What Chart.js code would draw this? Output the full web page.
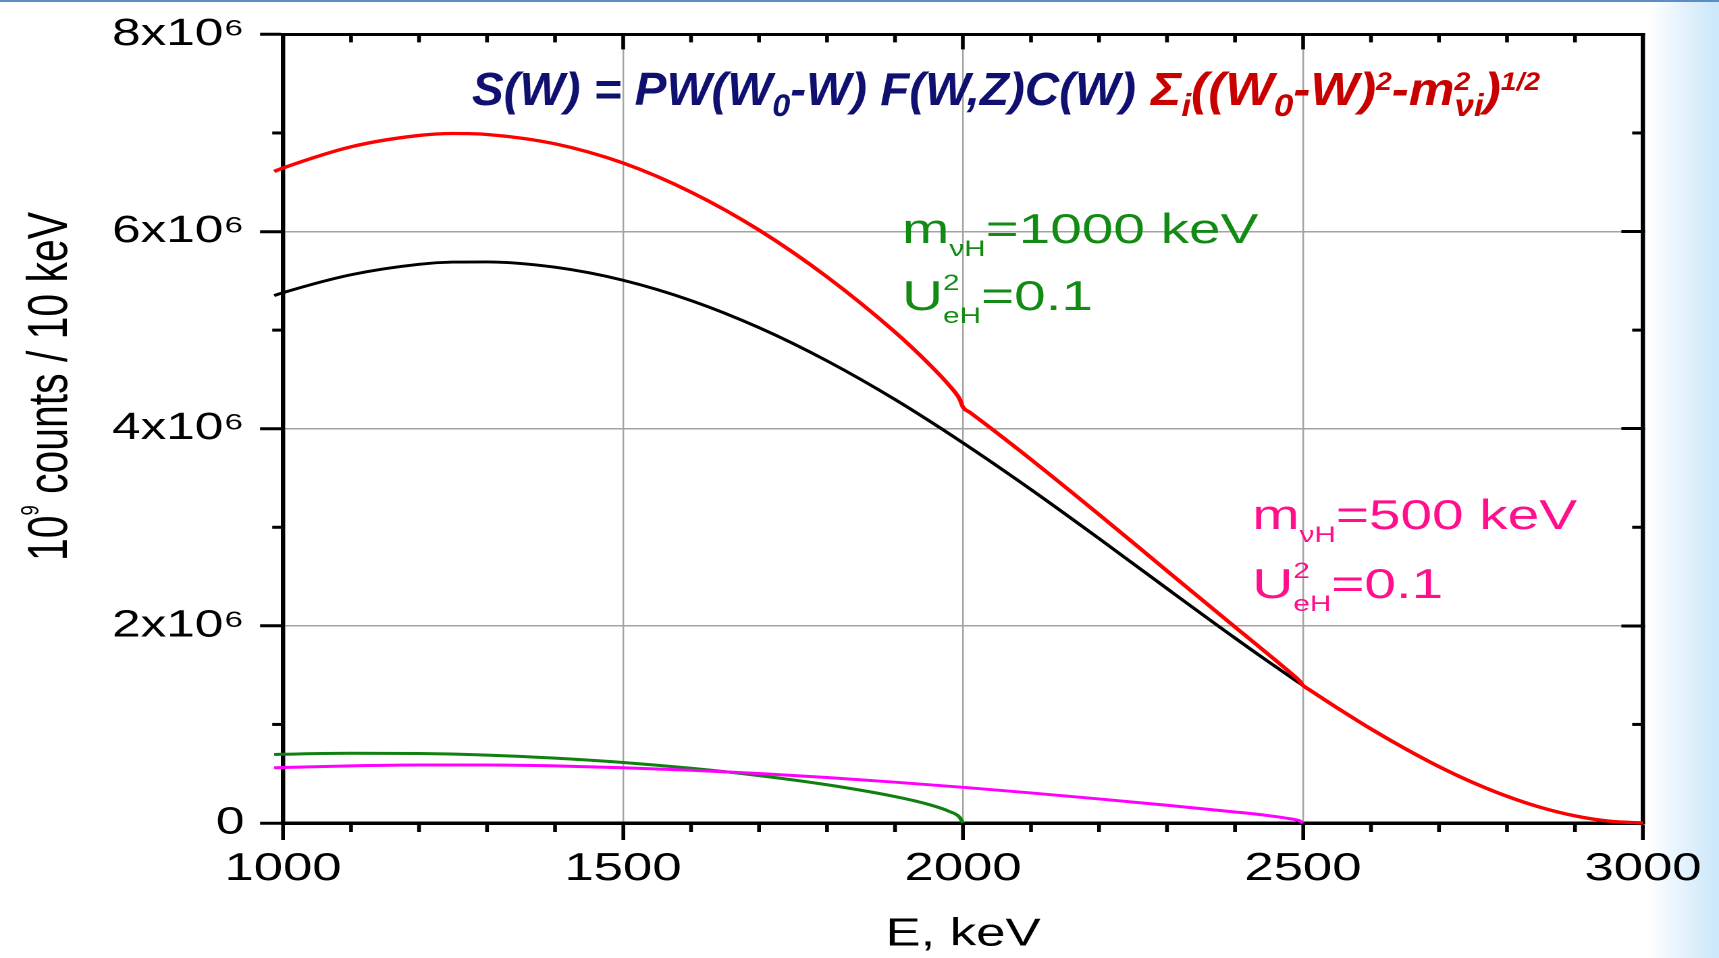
<!DOCTYPE html>
<html><head><meta charset="utf-8">
<script src="https://cdn.jsdelivr.net/npm/chart.js@4.4.0/dist/chart.umd.min.js"></script>
<style>
html,body{margin:0;padding:0;background:#fff;overflow:hidden;width:1719px;height:958px}
#wrap{position:absolute;left:0;top:0;width:1273px;height:958px;transform:scaleX(1.350353);transform-origin:0 0}
canvas{display:block}
</style></head><body>
<div id="wrap"><canvas id="c"></canvas></div>
<script>
// ---- data (values in units of 1e6 counts / 10 keV) ----
const UNIT = 1e6;
const totalE = [987,1000,1100,1200,1250,1300,1400,1500,1600,1700,1800,1900,1950,1980,1995,2000,2010,2025,2050,2100,2200,2300,2400,2450,2480,2495,2500,2510,2525,2550,2600,2650,2700,2750,2800,2850,2900,2950,3000];
const totalS = [6.610,6.645,6.860,6.975,6.995,6.985,6.890,6.695,6.400,6.015,5.540,4.980,4.656,4.437,4.301,4.218,4.166,4.089,3.957,3.688,3.130,2.558,1.988,1.706,1.533,1.441,1.395,1.349,1.281,1.169,0.954,0.755,0.572,0.410,0.271,0.157,0.072,0.0185,0];
const lightE = [987,1000,1100,1200,1250,1300,1400,1500,1600,1700,1800,1900,2000,2100,2200,2300,2400,2450,2480,2495,2500,2510,2525,2550,2600,2650,2700,2750,2800,2850,2900,2950,3000];
const lightS = [5.350,5.380,5.562,5.668,5.690,5.692,5.638,5.506,5.300,5.025,4.688,4.296,3.856,3.383,2.886,2.378,1.876,1.632,1.489,1.419,1.395,1.349,1.281,1.169,0.954,0.755,0.572,0.410,0.271,0.157,0.072,0.0185,0];
const heavy1000E = [987,1000,1100,1200,1300,1400,1500,1600,1700,1800,1900,1950,1980,1995,2000];
const heavy1000S = [0.695,0.697,0.707,0.705,0.689,0.658,0.614,0.555,0.481,0.388,0.268,0.187,0.117,0.058,0];
const heavy500E = [987,1000,1100,1200,1300,1400,1500,1600,1700,1800,1900,2000,2100,2200,2300,2400,2450,2480,2495,2500];
const heavy500S = [0.560,0.563,0.580,0.588,0.588,0.579,0.561,0.535,0.502,0.461,0.414,0.362,0.305,0.244,0.180,0.112,0.074,0.044,0.022,0];
const yTickLabels = ['0','2x10⁶','4x10⁶','6x10⁶','8x10⁶'];
const xTitle = 'E, keV';
const yTitleParts = ['10','9',' counts / 10 keV'];

const FONT = '"Liberation Sans", Arial, Helvetica, sans-serif';
const NAVY = '#101070', DRED = '#c80000', GTXT = '#138a13', MTXT = '#ff0f8c';

function pairs(E,S){ return E.map((e,i)=>({x:e, y:S[i]*UNIT})); }

function fnt(cfg, size){ return (cfg.style||'') + ' ' + size + 'px ' + FONT; }
function segW(ctx, s, cfg){
  if (!s.k){ ctx.font = fnt(cfg, cfg.size); return ctx.measureText(s.t).width; }
  if (s.k==='sub'){ ctx.font = fnt(cfg, cfg.size*cfg.subR); return ctx.measureText(s.t).width; }
  if (s.k==='sup'){ ctx.font = fnt(cfg, cfg.size*cfg.supR); return ctx.measureText(s.t).width; }
  ctx.font = fnt(cfg, cfg.size*cfg.subR); const a = ctx.measureText(s.t).width;
  ctx.font = fnt(cfg, cfg.size*cfg.supR); const b = ctx.measureText(s.t2).width;
  return Math.max(a,b);
}
function richW(ctx, segs, cfg){ let w=0; for(const s of segs) w+=segW(ctx,s,cfg); return w; }
function drawRich(ctx, x, y, segs, cfg, sx){
  ctx.save(); ctx.translate(x,y); ctx.scale(sx||1,1);
  ctx.textAlign='left'; ctx.textBaseline='alphabetic';
  let cx=0;
  for(const s of segs){
    ctx.fillStyle = s.c || cfg.color;
    const w = segW(ctx,s,cfg);
    if (!s.k){ ctx.font=fnt(cfg,cfg.size); ctx.fillText(s.t,cx,0); }
    else if (s.k==='sub'){ ctx.font=fnt(cfg,cfg.size*cfg.subR); ctx.fillText(s.t,cx,cfg.subDy); }
    else if (s.k==='sup'){ ctx.font=fnt(cfg,cfg.size*cfg.supR); ctx.fillText(s.t,cx,cfg.supDy); }
    else { ctx.font=fnt(cfg,cfg.size*cfg.subR); ctx.fillText(s.t,cx,cfg.subDy);
           ctx.font=fnt(cfg,cfg.size*cfg.supR); ctx.fillText(s.t2,cx,cfg.supDy); }
    cx += w;
  }
  ctx.restore();
}

const bgPlugin = {
  id:'bg',
  beforeDraw(chart){
    const {ctx, width, height} = chart;
    ctx.save();
    ctx.fillStyle='#fff'; ctx.fillRect(0,0,width,height);
    const g = ctx.createLinearGradient(1220,0,1270,0);
    g.addColorStop(0,'rgba(205,232,250,0)');
    g.addColorStop(1,'rgba(205,232,250,1)');
    ctx.fillStyle=g; ctx.fillRect(1220,0,width-1220,height);
    ctx.fillStyle='#5a8cc8'; ctx.fillRect(0,0,width,2);
    ctx.restore();
  }
};

const minorPlugin = {
  id:'minor',
  beforeDatasetsDraw(chart){
    const {ctx, chartArea:a, scales:{x,y}} = chart;
    ctx.save(); ctx.strokeStyle='#000'; ctx.lineCap='butt';
    const ln=(x1,y1,x2,y2)=>{ctx.beginPath();ctx.moveTo(x1,y1);ctx.lineTo(x2,y2);ctx.stroke();};
    ctx.lineWidth=2.8;
    for(let e=1100;e<3000;e+=100){
      if(e%500===0) continue;
      const px=x.getPixelForValue(e);
      ln(px,a.bottom,px,a.bottom+9);
      ln(px,a.top,px,a.top+8);
    }
    ctx.lineWidth=3;
    for(let v=1e6;v<8e6;v+=2e6){
      const py=y.getPixelForValue(v);
      ln(a.left-8,py,a.left,py);
      ln(a.right-8,py,a.right,py);
    }
    ctx.restore();
  }
};

const textPlugin = {
  id:'texts',
  afterDraw(chart){
    const ctx = chart.ctx;
    // formula
    const fcfg = {size:46, style:'italic bold', subR:0.68, supR:0.55, subDy:11, supDy:-15, color:NAVY};
    const navySegs = [
      {t:'S(W) = PW(W',c:NAVY},{t:'0',k:'sub',c:NAVY},{t:'-W) F(W,Z)C(W)',c:NAVY}
    ];
    const redSegs = [
      {t:'Σ',c:DRED},{t:'i',k:'sub',c:DRED},{t:'((W',c:DRED},{t:'0',k:'sub',c:DRED},{t:'-W)',c:DRED},
      {t:'2',k:'sup',c:DRED},{t:'-m',c:DRED},{k:'ss',t:'νi',t2:'2',c:DRED},{t:')',c:DRED},{t:'1/2',k:'sup',c:DRED}
    ];
    const nw = richW(ctx,navySegs,fcfg), rw = richW(ctx,redSegs,fcfg);
    drawRich(ctx, 349.5, 105, navySegs, fcfg, 491.7/nw);
    drawRich(ctx, 852.4, 105, redSegs, fcfg, 288.1/rw);

    // annotations
    const acfg = {size:42, style:'', subR:22/42, supR:22/42, subDy:13, supDy:-20};
    drawRich(ctx, 668, 243, [{t:'m'},{t:'νH',k:'sub'},{t:'=1000 keV'}], Object.assign({color:GTXT},acfg), 1);
    drawRich(ctx, 668, 310, [{t:'U'},{k:'ss',t:'eH',t2:'2'},{t:'=0.1'}], Object.assign({color:GTXT},acfg), 1);
    drawRich(ctx, 927.4, 529, [{t:'m'},{t:'νH',k:'sub'},{t:'=500 keV'}], Object.assign({color:MTXT},acfg), 1);
    drawRich(ctx, 927.4, 598, [{t:'U'},{k:'ss',t:'eH',t2:'2'},{t:'=0.1'}], Object.assign({color:MTXT},acfg), 1);

    // y axis title
    const ycfg = {size:42, style:'', subR:0.45, supR:0.45, subDy:0, supDy:-21, color:'#000'};
    const ysegs = [{t:yTitleParts[0]},{t:yTitleParts[1],k:'sup'},{t:yTitleParts[2]}];
    const yw = richW(ctx,ysegs,ycfg);
    const L = 349;
    ctx.save();
    ctx.translate(49.6, 386.5); ctx.rotate(-Math.PI/2);
    drawRich(ctx, -L/2, 0, ysegs, ycfg, L/yw);
    ctx.restore();
  }
};

Chart.defaults.font.family = FONT;
Chart.defaults.color = '#000';

const gridGray = '#a3a3a3';
new Chart(document.getElementById('c'), {
  type:'line',
  data:{ datasets:[
    {label:'total', data:pairs(totalE,totalS), borderColor:'#ff0000', borderWidth:3.3, clip:false},
    {label:'heavy 500 keV', data:pairs(heavy500E,heavy500S), borderColor:'#ff00ff', borderWidth:3, clip:false},
    {label:'heavy 1000 keV', data:pairs(heavy1000E,heavy1000S), borderColor:'#108010', borderWidth:3, clip:false},
    {label:'light', data:pairs(lightE,lightS), borderColor:'#000000', borderWidth:2.9, clip:false}
  ]},
  options:{
    responsive:true, maintainAspectRatio:false, animation:false, devicePixelRatio:2,
    layout:{padding:0},
    elements:{point:{radius:0,hoverRadius:0}, line:{cubicInterpolationMode:'monotone', fill:false}},
    plugins:{legend:{display:false}, tooltip:{enabled:false}, title:{display:false}},
    events:[],
    scales:{
      x:{type:'linear', position:'bottom', min:1000, max:3000,
        ticks:{stepSize:500, autoSkip:false, maxRotation:0, padding:6, color:'#000',
          font:{family:FONT,size:39}, callback:v=>String(v)},
        grid:{color:c=>(c.tick && (c.tick.value===1000||c.tick.value===3000))?'rgba(0,0,0,0)':gridGray,
          lineWidth:1.2, tickLength:17, tickWidth:2.8, tickColor:'#000'},
        border:{display:true,color:'#000',width:3.5},
        title:{display:true, text:xTitle, color:'#000', font:{family:FONT,size:39}, padding:{top:0,bottom:0}},
        afterFit:s=>{s.height=135;}
      },
      x2:{type:'linear', position:'top', min:1000, max:3000,
        ticks:{stepSize:500, display:false},
        grid:{drawOnChartArea:false, tickLength:-15, tickWidth:2.8, tickColor:'#000'},
        border:{display:true,color:'#000',width:3},
        afterFit:s=>{s.height=31;}
      },
      y:{type:'linear', position:'left', min:0, max:8e6,
        ticks:{stepSize:2e6, padding:11.6, color:'#000', font:{family:FONT,size:38},
          callback:v=>yTickLabels[Math.round(v/2e6)]},
        grid:{color:c=>(c.tick && (c.tick.value===0||c.tick.value===8e6))?'rgba(0,0,0,0)':gridGray,
          lineWidth:1.5, tickLength:17, tickWidth:3, tickColor:'#000'},
        border:{display:true,color:'#000',width:3.2},
        afterFit:s=>{s.width=209.6;}
      },
      y2:{type:'linear', position:'right', min:0, max:8e6,
        ticks:{stepSize:2e6, display:false},
        grid:{drawOnChartArea:false, tickLength:-16, tickWidth:3, tickColor:'#000'},
        border:{display:true,color:'#000',width:3.2},
        afterFit:s=>{s.width=56.3;}
      }
    }
  },
  plugins:[bgPlugin, minorPlugin, textPlugin]
});
</script>
</body></html>
